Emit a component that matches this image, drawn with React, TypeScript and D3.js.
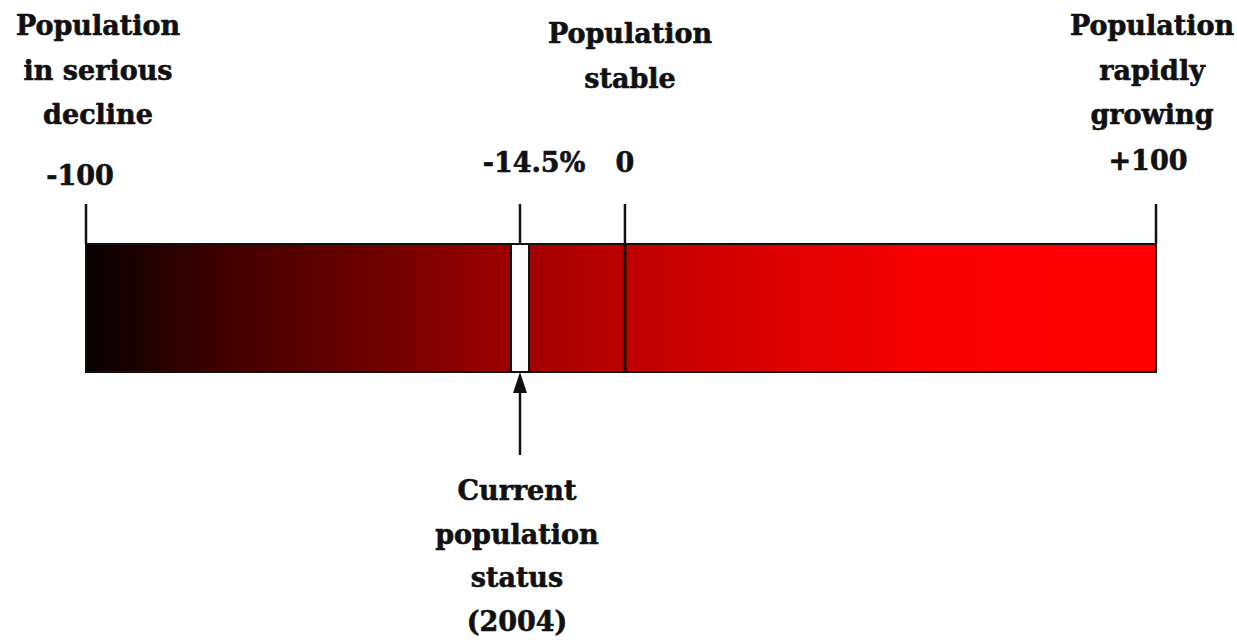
import React from "react";
import * as d3 from "d3";

const W = 1237;
const H = 644;

// Scale anchor values (as drawn on the schematic)
const anchorValues = [-100, -14.5, 0, 100];
const currentValue = -14.5;
const tickValues = [-100, 0, 100];
const tickLabels = ["-100", "0", "+100"];
const currentLabel = "-14.5%";

const headerLeft = ["Population", "in serious", "decline"];
const headerMid = ["Population", "stable"];
const headerRight = ["Population", "rapidly", "growing"];
const footer = ["Current", "population", "status", "(2004)"];

// gradient colour stops (offset, colour)
const gradOffsets = [0, 0.135, 0.257, 0.388, 0.5, 0.67, 0.78, 1];
const gradColors = ["#080000", "#440000", "#6a0000", "#9c0000", "#bc0000", "#e20000", "#f80000", "#ff0000"];

export default function App() {
  const x0 = 86;
  const x1 = 1156;
  const x = d3
    .scaleLinear()
    .domain(anchorValues)
    .range([x0, x0 + (x1 - x0) * 0.4056, x0 + (x1 - x0) * 0.5037, x1]);

  const barTop = 244;
  const barBot = 372;
  const tickTop = 204;
  const font = "'DejaVu Serif', serif";
  const fs = 27;
  const lh = 44.5;
  const mx = x(currentValue);

  const textStyle: React.CSSProperties = {
    fontFamily: font,
    fontWeight: 700,
    fontSize: fs,
    fill: "#111",
    stroke: "#111",
    strokeWidth: 0.6,
  };

  return (
    <svg width={W} height={H} style={{ position: "absolute", left: 0, top: 0, background: "#fff" }}>
      <defs>
        <linearGradient id="grad" x1="0" x2="1" y1="0" y2="0">
          {gradOffsets.map((o, i) => (
            <stop key={i} offset={o} stopColor={gradColors[i]} />
          ))}
        </linearGradient>
      </defs>

      {/* header texts */}
      {headerLeft.map((t, i) => (
        <text key={"l" + i} x={98} y={35 + i * lh} textAnchor="middle" style={textStyle}>
          {t}
        </text>
      ))}
      {headerMid.map((t, i) => (
        <text key={"m" + i} x={630} y={43 + i * lh} textAnchor="middle" style={textStyle}>
          {t}
        </text>
      ))}
      {headerRight.map((t, i) => (
        <text key={"r" + i} x={1152} y={35 + i * lh} textAnchor="middle" style={textStyle}>
          {t}
        </text>
      ))}

      {/* tick labels */}
      <text x={x(tickValues[0]) - 6} y={185} textAnchor="middle" style={textStyle}>
        {tickLabels[0]}
      </text>
      <text x={x(tickValues[1])} y={172} textAnchor="middle" style={textStyle}>
        {tickLabels[1]}
      </text>
      <text x={x(tickValues[2]) - 8} y={170} textAnchor="middle" style={textStyle}>
        {tickLabels[2]}
      </text>
      <text x={mx + 14} y={172} textAnchor="middle" style={textStyle}>
        {currentLabel}
      </text>

      {/* bar */}
      <rect x={x0} y={barTop} width={x1 - x0} height={barBot - barTop} fill="url(#grad)" stroke="#111" strokeWidth={2} />

      {/* ticks */}
      {tickValues.map((v) => (
        <line key={v} x1={x(v)} x2={x(v)} y1={tickTop} y2={barTop} stroke="#111" strokeWidth={2.5} />
      ))}
      <line x1={x(0)} x2={x(0)} y1={barTop} y2={barBot} stroke="#1a0000" strokeWidth={3} />
      <line x1={mx} x2={mx} y1={tickTop} y2={barTop} stroke="#111" strokeWidth={2.5} />

      {/* current marker */}
      <rect x={mx - 9} y={barTop} width={18} height={barBot - barTop} fill="#fdfdfd" stroke="#111" strokeWidth={2} />

      {/* arrow */}
      <line x1={mx} x2={mx} y1={barBot + 14} y2={455} stroke="#111" strokeWidth={2.5} />
      <path d={`M${mx},${barBot} L${mx - 7},${barBot + 21} L${mx + 7},${barBot + 21} Z`} fill="#111" />

      {/* footer */}
      {footer.map((t, i) => (
        <text key={"f" + i} x={mx - 3} y={500 + i * 43.5} textAnchor="middle" style={textStyle}>
          {t}
        </text>
      ))}
    </svg>
  );
}
